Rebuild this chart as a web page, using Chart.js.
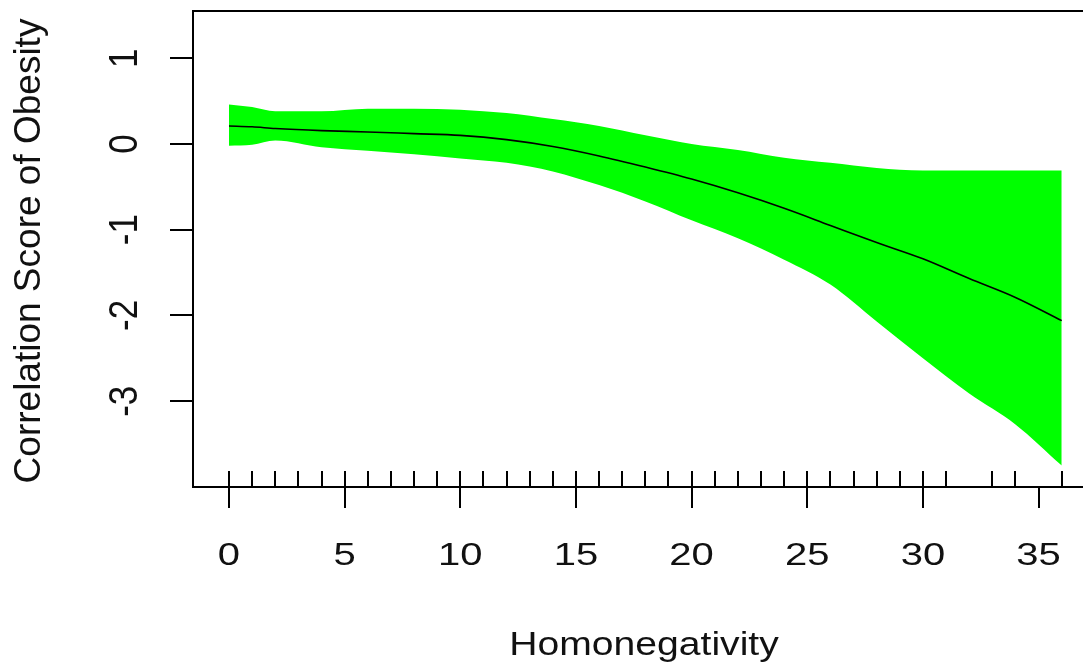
<!DOCTYPE html>
<html>
<head>
<meta charset="utf-8">
<script src="https://cdn.jsdelivr.net/npm/chart.js@4/dist/chart.umd.min.js"></script>
<style>
  html, body { margin: 0; padding: 0; background: #fff; }
  canvas { display: block; }
</style>
</head>
<body>
<canvas id="fitChart" width="1083" height="664"></canvas>
<script>
// values
const xs    = [0, 1, 2, 4, 6, 8, 10, 12, 14, 16, 18, 20, 22, 24, 26, 28, 30, 32, 34, 36];
const fit   = [0.21, 0.20, 0.18, 0.155, 0.14, 0.12, 0.10, 0.05, -0.03, -0.14, -0.27, -0.41, -0.57, -0.75, -0.95, -1.15, -1.34, -1.57, -1.79, -2.06];
const upper = [0.46, 0.43, 0.38, 0.38, 0.41, 0.41, 0.40, 0.36, 0.29, 0.21, 0.10, 0.00, -0.07, -0.16, -0.22, -0.28, -0.31, -0.31, -0.31, -0.31];
const lower = [-0.02, -0.01, 0.04, -0.04, -0.08, -0.12, -0.17, -0.22, -0.32, -0.48, -0.67, -0.89, -1.10, -1.35, -1.64, -2.07, -2.50, -2.91, -3.27, -3.75];

// observed x values (rug)
const rugX = [0, 1, 2, 3, 4, 5, 6, 7, 8, 9, 10, 11, 12, 13, 14, 15, 16, 17, 18, 19, 20,
  21, 22, 23, 24, 25, 26, 27, 28, 29, 30, 31, 33, 34, 36];

const xTicks = [0, 5, 10, 15, 20, 25, 30, 35];
const yTicks = [-3, -2, -1, 0, 1];

const xTitle = 'Homonegativity';
const yTitle = 'Correlation Score of Obesity';

const FONT = '"Liberation Sans", Arial, sans-serif';

const pts = arr => xs.map((x, i) => ({ x, y: arr[i] }));

// text in the picture is a bit wider than tall, so draw it with a horizontal stretch
function stretchedText(ctx, txt, x, y, size, rot, sx) {
  ctx.save();
  ctx.translate(x, y);
  ctx.scale(sx, 1);
  if (rot) ctx.rotate(rot);
  ctx.font = `${size}px ${FONT}`;
  ctx.fillStyle = '#111';
  ctx.textAlign = 'center';
  ctx.textBaseline = 'alphabetic';
  ctx.fillText(txt, 0, 0);
  ctx.restore();
}

const decor = {
  id: 'decor',
  afterDatasetsDraw(chart) {
    const { ctx, chartArea: a, scales: { x } } = chart;
    ctx.save();
    ctx.strokeStyle = '#000';
    ctx.lineWidth = 2;
    // rug
    ctx.beginPath();
    rugX.forEach(v => {
      const px = Math.round(x.getPixelForValue(v));
      ctx.moveTo(px, a.bottom);
      ctx.lineTo(px, a.bottom - 16);
    });
    ctx.stroke();
    // top of box
    ctx.beginPath();
    ctx.moveTo(a.left, a.top);
    ctx.lineTo(a.right, a.top);
    ctx.stroke();
    ctx.restore();
  },
  afterDraw(chart) {
    const { chartArea: a, scales: { x, y }, ctx } = chart;
    xTicks.forEach(v => stretchedText(ctx, String(v), x.getPixelForValue(v), 565, 32, 0, 1.25));
    yTicks.forEach(v => stretchedText(ctx, String(v), 137, y.getPixelForValue(v), 35, -Math.PI / 2, 1.15));
    stretchedText(ctx, xTitle, 644, 655, 34, 0, 1.15);
    stretchedText(ctx, yTitle, 40, (a.top + a.bottom) / 2 + 2, 37, -Math.PI / 2, 1);
  }
};

new Chart(document.getElementById('fitChart').getContext('2d'), {
  type: 'line',
  data: {
    datasets: [
      {
        label: 'upper',
        data: pts(upper),
        borderWidth: 0,
        pointRadius: 0,
        backgroundColor: '#00ff00',
        fill: '+1',
        cubicInterpolationMode: 'monotone',
        order: 2
      },
      {
        label: 'lower',
        data: pts(lower),
        borderWidth: 0,
        pointRadius: 0,
        fill: false,
        cubicInterpolationMode: 'monotone',
        order: 2
      },
      {
        label: 'fit',
        data: pts(fit),
        borderColor: '#000',
        borderWidth: 1.6,
        pointRadius: 0,
        fill: false,
        cubicInterpolationMode: 'monotone',
        order: 1
      }
    ]
  },
  options: {
    responsive: false,
    devicePixelRatio: 1,
    animation: false,
    layout: { padding: { top: 11, right: 0, left: 0, bottom: 0 } },
    plugins: { legend: { display: false }, tooltip: { enabled: false } },
    scales: {
      x: {
        type: 'linear',
        min: -1.556,
        max: 36.92,
        afterBuildTicks: s => { s.ticks = xTicks.map(v => ({ value: v })); },
        afterFit: s => { s.height = 177; },
        ticks: { display: false },
        grid: { drawOnChartArea: false, drawTicks: true, tickLength: 21, color: '#000', lineWidth: 2 },
        border: { display: true, color: '#000', width: 2 }
      },
      y: {
        min: -4.0,
        max: 1.55,
        afterBuildTicks: s => { s.ticks = yTicks.map(v => ({ value: v })); },
        afterFit: s => { s.width = 193; },
        ticks: { display: false },
        grid: { drawOnChartArea: false, drawTicks: true, tickLength: 23, color: '#000', lineWidth: 2 },
        border: { display: true, color: '#000', width: 2 }
      }
    }
  },
  plugins: [decor]
});
</script>
</body>
</html>
